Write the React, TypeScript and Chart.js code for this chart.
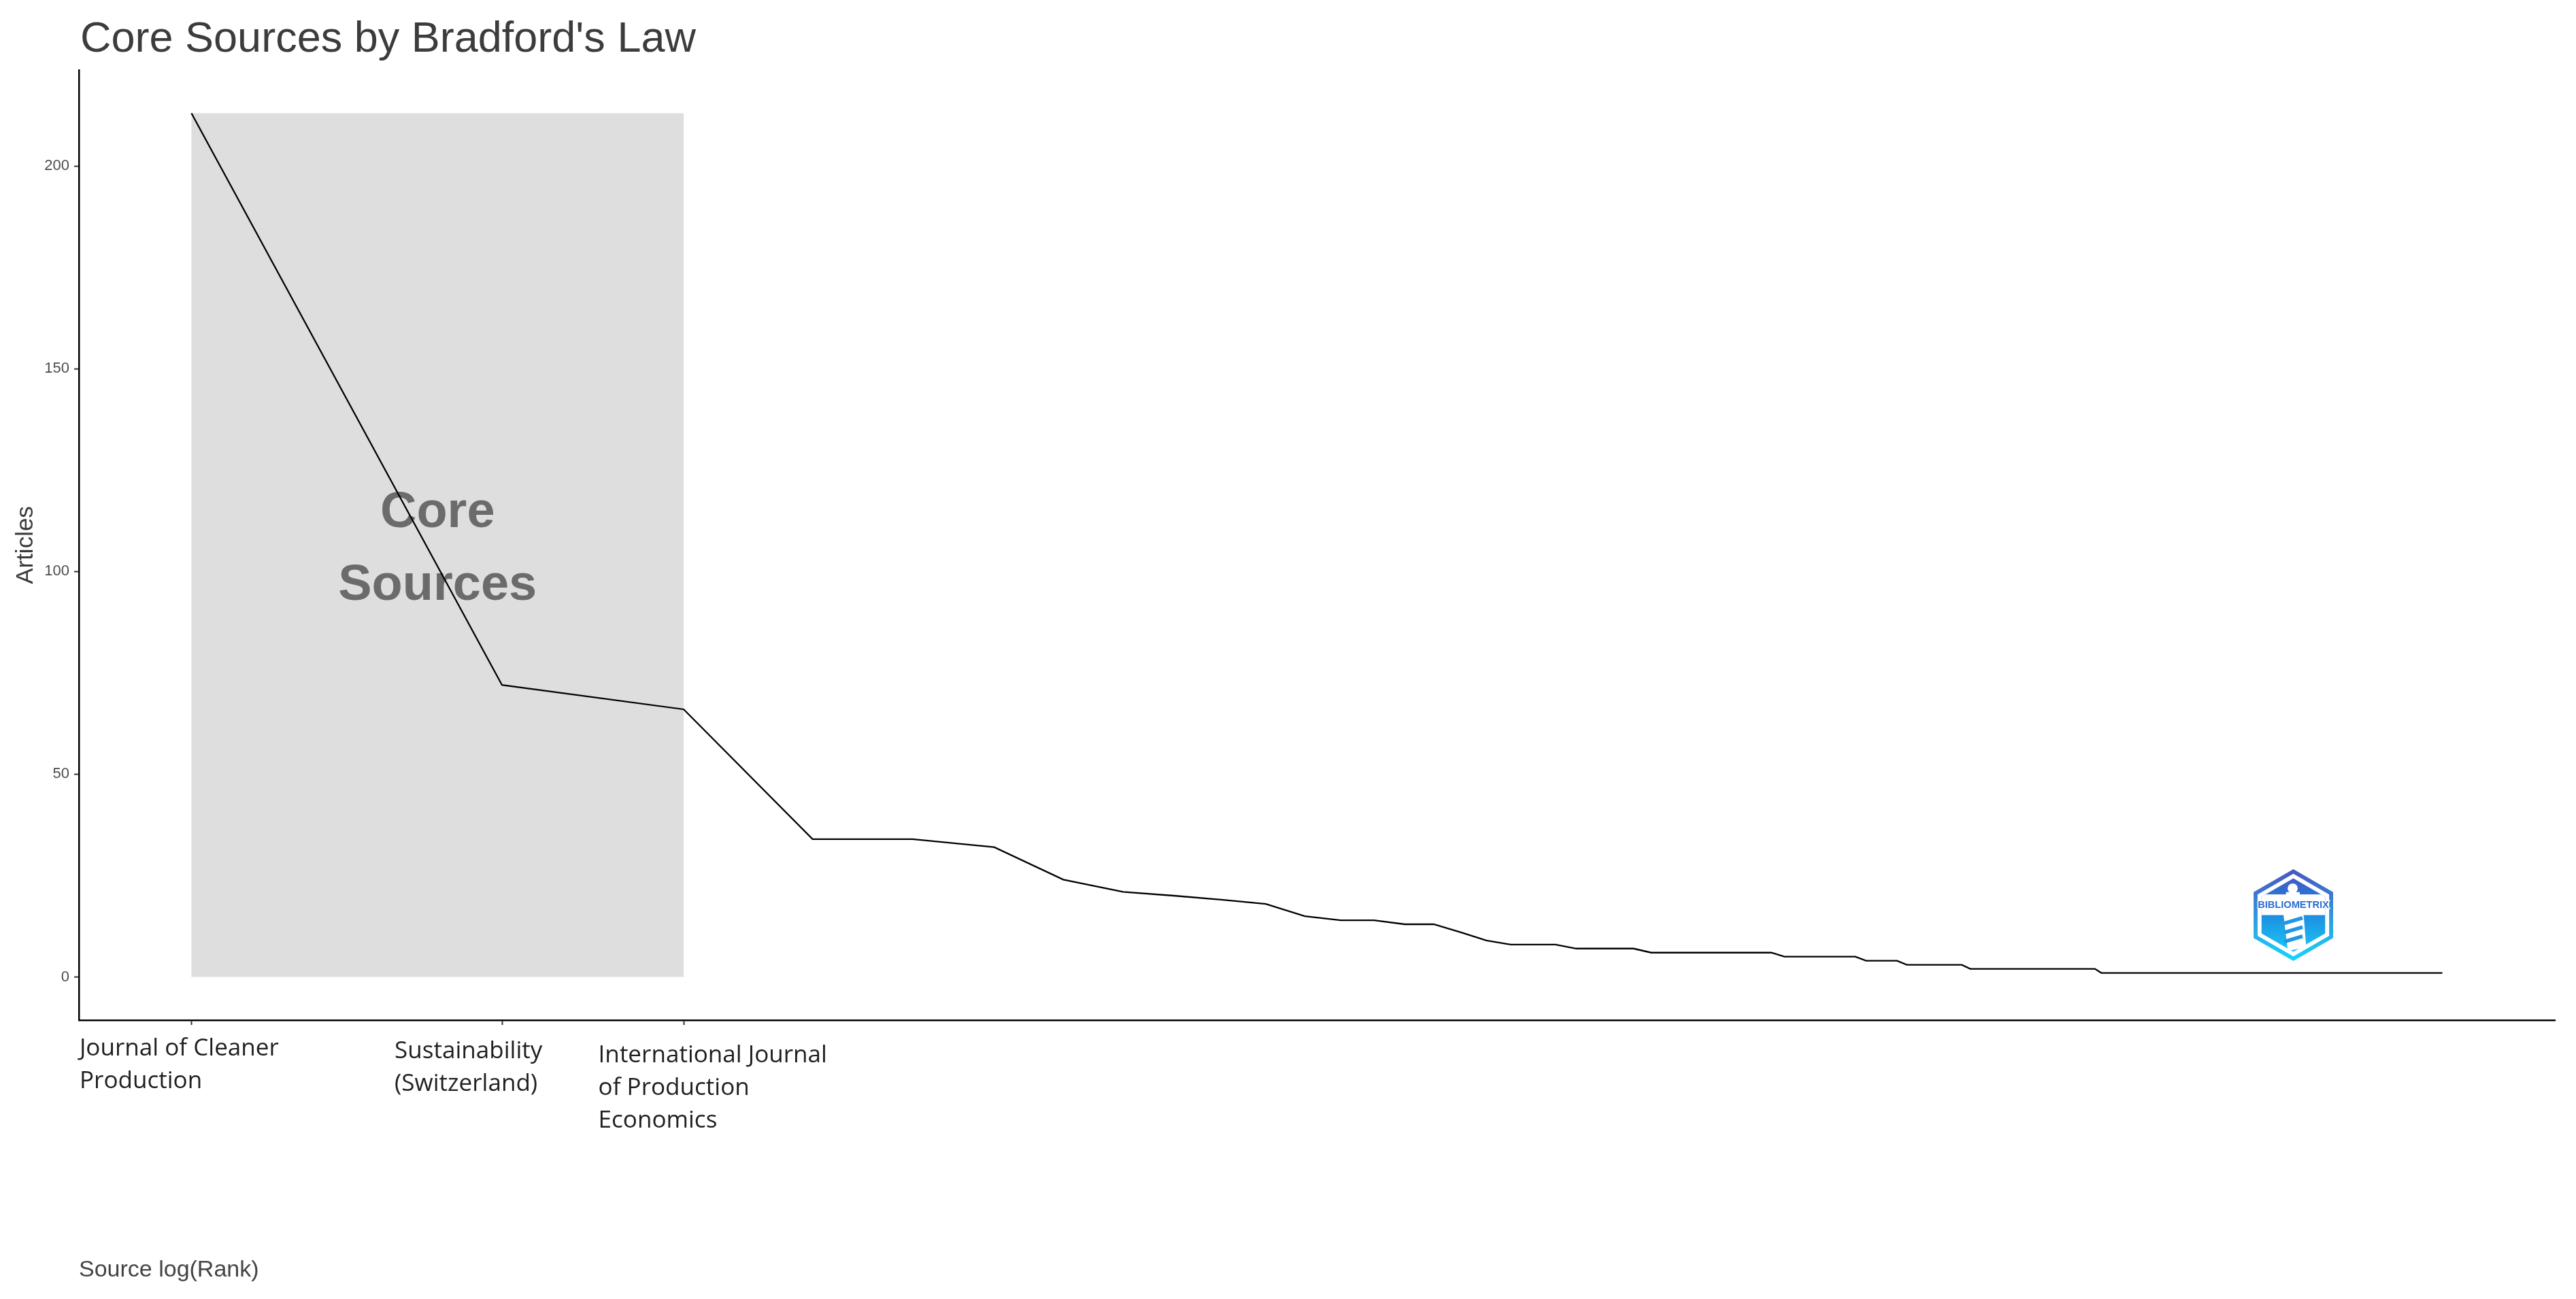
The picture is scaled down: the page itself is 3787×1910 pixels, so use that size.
import React, { useEffect, useRef } from 'react';
import { Chart, registerables } from 'chart.js';

Chart.register(...registerables);

// ---------- data ----------
const chartTitle = "Core Sources by Bradford's Law";
const xAxisTitle = 'Source log(Rank)';
const yAxisTitle = 'Articles';
const coreAreaLabel = ['Core', 'Sources'];

// core sources (zone 1), wrapped as in the reference
const coreSourceLabels: string[][] = [
  ['Journal of Cleaner', 'Production'],
  ['Sustainability', '(Switzerland)'],
  ['International Journal', 'of Production', 'Economics'],
];

// articles per source, sorted by rank (rank = position + 1)
const articles: number[] = [
  213, 72, 66, 34, 34, 32, 24, 21, 20, 19,
  18, 15, 14, 14, 13, 13, 11, 9, 8, 8,
  8, 7, 7, 7, 7, 6, 6, 6, 6, 6,
  6, 6, 6, 6, 5, 5, 5, 5, 5, 5,
  5, 4, 4, 4, 4, 3, 3, 3, 3, 3,
  3, 3, 2, 2, 2, 2, 2, 2, 2, 2,
  2, 2, 2, 2, 2, 2, 2, 2, 2, 2,
  1, 1, 1, 1, 1, 1, 1, 1, 1, 1,
  1, 1, 1, 1, 1, 1, 1, 1, 1, 1,
  1, 1, 1, 1, 1, 1, 1, 1, 1, 1,
  1, 1, 1, 1, 1, 1, 1, 1, 1, 1,
  1, 1, 1, 1, 1, 1, 1, 1, 1, 1,
  1, 1, 1, 1, 1, 1, 1, 1, 1, 1,
  1, 1, 1, 1, 1, 1, 1, 1, 1, 1,
  1, 1, 1, 1, 1, 1, 1, 1, 1, 1,
  1, 1,
];

const yTickValues = [0, 50, 100, 150, 200];

// ---------- helpers ----------
const W = 3787;
const H = 1910;
const maxArticles = Math.max(...articles);
const lnMax = Math.log(articles.length);
const xMin = -0.05 * lnMax;
const xMax = lnMax * 1.05;
const yMin = -0.05 * maxArticles;
const yMax = maxArticles * 1.05;

const SANS = '"Liberation Sans", Arial, sans-serif';

function hexPath(ctx: CanvasRenderingContext2D, cx: number, cy: number, r: number) {
  ctx.beginPath();
  for (let k = 0; k < 6; k++) {
    const a = -Math.PI / 2 + (k * Math.PI) / 3;
    const px = cx + r * Math.cos(a);
    const py = cy + r * Math.sin(a);
    if (k === 0) ctx.moveTo(px, py);
    else ctx.lineTo(px, py);
  }
  ctx.closePath();
}

function drawLogo(ctx: CanvasRenderingContext2D, cx: number, cy: number, r: number) {
  ctx.save();
  const g = ctx.createLinearGradient(0, cy - r, 0, cy + r);
  g.addColorStop(0, '#4a56c0');
  g.addColorStop(1, '#16d6f8');
  hexPath(ctx, cx, cy, r);
  ctx.fillStyle = g;
  ctx.fill();
  hexPath(ctx, cx, cy, r * 0.9);
  ctx.fillStyle = '#ffffff';
  ctx.fill();
  const g2 = ctx.createLinearGradient(0, cy - r * 0.8, 0, cy + r * 0.8);
  g2.addColorStop(0, '#3f5cc6');
  g2.addColorStop(0.5, '#1e8ee0');
  g2.addColorStop(1, '#19c8f4');
  hexPath(ctx, cx, cy, r * 0.8);
  ctx.fillStyle = g2;
  ctx.fill();
  ctx.save();
  hexPath(ctx, cx, cy, r * 0.8);
  ctx.clip();
  ctx.fillStyle = '#ffffff';
  ctx.fillRect(cx - r, cy - r * 0.45, 2 * r, r * 0.45);
  ctx.restore();
  // lighthouse
  ctx.fillStyle = '#ffffff';
  ctx.beginPath();
  ctx.arc(cx - 1, cy - r * 0.58, r * 0.11, 0, Math.PI * 2);
  ctx.fill();
  ctx.fillRect(cx - r * 0.16, cy - r * 0.5, r * 0.3, r * 0.3);
  ctx.beginPath();
  ctx.moveTo(cx - r * 0.22, cy - r * 0.05);
  ctx.lineTo(cx + r * 0.22, cy - r * 0.05);
  ctx.lineTo(cx + r * 0.28, cy + r * 0.7);
  ctx.lineTo(cx - r * 0.12, cy + r * 0.78);
  ctx.closePath();
  ctx.fill();
  ctx.strokeStyle = '#1f97e4';
  ctx.lineWidth = r * 0.08;
  for (let i = 0; i < 3; i++) {
    const yy = cy + r * (0.12 + i * 0.2);
    ctx.beginPath();
    ctx.moveTo(cx - r * 0.2, yy + r * 0.06);
    ctx.lineTo(cx + r * 0.2, yy - r * 0.06);
    ctx.stroke();
  }
  // text
  ctx.font = `bold 14px ${SANS}`;
  const tw = ctx.measureText('BIBLIOMETRIX').width;
  const fs = (14 * r * 1.55) / tw;
  ctx.font = `bold ${fs}px ${SANS}`;
  ctx.textAlign = 'center';
  ctx.textBaseline = 'middle';
  ctx.lineWidth = 3;
  ctx.strokeStyle = '#ffffff';
  ctx.strokeText('BIBLIOMETRIX', cx, cy - r * 0.22);
  ctx.fillStyle = '#2a6fd2';
  ctx.fillText('BIBLIOMETRIX', cx, cy - r * 0.22);
  ctx.restore();
}

const bradfordPlugin = {
  id: 'bradford',
  beforeDatasetsDraw(chart: any) {
    const { ctx, scales } = chart;
    const x = scales.x;
    const y = scales.y;
    const x0 = x.getPixelForValue(Math.log(1));
    const x1 = x.getPixelForValue(Math.log(coreSourceLabels.length));
    const yTop = y.getPixelForValue(maxArticles);
    const yBot = y.getPixelForValue(0);
    ctx.save();
    ctx.fillStyle = '#dedede';
    ctx.fillRect(x0, yTop, x1 - x0, yBot - yTop);
    ctx.font = `bold 74px ${SANS}`;
    ctx.fillStyle = '#6b6b6b';
    ctx.textAlign = 'center';
    ctx.textBaseline = 'alphabetic';
    const cx = (x0 + x1) / 2;
    const cy = y.getPixelForValue(maxArticles / 2);
    ctx.fillText(coreAreaLabel[0], cx, cy - 27);
    ctx.fillText(coreAreaLabel[1], cx, cy + 80);
    ctx.restore();
  },
  afterDraw(chart: any) {
    const { ctx, chartArea, scales } = chart;
    const x = scales.x;
    ctx.save();
    ctx.textBaseline = 'alphabetic';
    // title
    ctx.font = `63px ${SANS}`;
    ctx.fillStyle = '#3c3c3c';
    ctx.textAlign = 'left';
    ctx.fillText(chartTitle, chartArea.left + 2, 76);
    // y title
    ctx.save();
    ctx.translate(38, (chartArea.top + chartArea.bottom) / 2);
    ctx.rotate(-Math.PI / 2);
    ctx.font = `35px ${SANS}`;
    ctx.fillStyle = '#3a3a3a';
    ctx.textAlign = 'center';
    ctx.textBaseline = 'middle';
    ctx.fillText(yAxisTitle, 0, 0);
    ctx.restore();
    // x title
    ctx.font = `34px ${SANS}`;
    ctx.fillStyle = '#444444';
    ctx.textAlign = 'left';
    ctx.fillText(xAxisTitle, chartArea.left, 1877);
    // x tick labels of core sources
    const LABEL_FONT = '"Open Sans", "Noto Sans", sans-serif';
    ctx.font = `36px ${LABEL_FONT}`;
    const mw = ctx.measureText(coreSourceLabels[0][0]).width;
    const fs = (36 * 293) / mw;
    ctx.font = `${fs}px ${LABEL_FONT}`;
    ctx.fillStyle = '#1f1f1f';
    const leftOffsets = [-164.5, -158, -125.5];
    const baseOffsets = [52, 56, 62];
    coreSourceLabels.forEach((lines, i) => {
      const px = x.getPixelForValue(Math.log(i + 1));
      lines.forEach((ln, j) => {
        ctx.fillText(ln, px + leftOffsets[i], chartArea.bottom + baseOffsets[i] + j * 48);
      });
    });
    // logo
    drawLogo(ctx, chartArea.right - 384.5, chartArea.bottom - 154.5, 67.5);
    ctx.restore();
  },
};

export default function App() {
  const ref = useRef<HTMLCanvasElement | null>(null);

  useEffect(() => {
    document.body.style.margin = '0';
    document.body.style.overflow = 'hidden';
    if (!ref.current) return;
    const points = articles.map((v, i) => ({ x: Math.log(i + 1), y: v }));
    const chart = new Chart(ref.current, {
      type: 'line',
      data: {
        datasets: [
          {
            data: points,
            borderColor: '#000000',
            borderWidth: 2.3,
            pointRadius: 0,
            tension: 0,
            fill: false,
          },
        ],
      },
      options: {
        animation: false,
        responsive: false,
        maintainAspectRatio: false,
        layout: { padding: { left: 0, right: 31, top: 103, bottom: 0 } },
        plugins: {
          legend: { display: false },
          tooltip: { enabled: false },
          title: { display: false },
        },
        scales: {
          x: {
            type: 'linear',
            min: xMin,
            max: xMax,
            afterBuildTicks: (s: any) => {
              s.ticks = coreSourceLabels.map((_, i) => ({ value: Math.log(i + 1) }));
            },
            afterFit: (s: any) => {
              s.height = H - 1500;
            },
            ticks: { display: false },
            grid: {
              drawOnChartArea: false,
              drawTicks: true,
              tickLength: 7,
              tickColor: '#333333',
              tickWidth: 2,
            },
            border: { display: true, color: '#000000', width: 2.5 },
          },
          y: {
            type: 'linear',
            min: yMin,
            max: yMax,
            afterBuildTicks: (s: any) => {
              s.ticks = yTickValues.map((v) => ({ value: v }));
            },
            afterFit: (s: any) => {
              s.width = 116;
            },
            ticks: {
              font: { family: SANS, size: 22 },
              color: '#4d4d4d',
              padding: 7,
            },
            grid: {
              drawOnChartArea: false,
              drawTicks: true,
              tickLength: 7,
              tickColor: '#333333',
              tickWidth: 2,
            },
            border: { display: true, color: '#000000', width: 2.5 },
          },
        },
      } as any,
      plugins: [bradfordPlugin],
    });
    return () => chart.destroy();
  }, []);

  return (
    <div style={{ width: W, height: H }}>
      <canvas ref={ref} width={W} height={H} style={{ display: 'block' }} />
    </div>
  );
}
